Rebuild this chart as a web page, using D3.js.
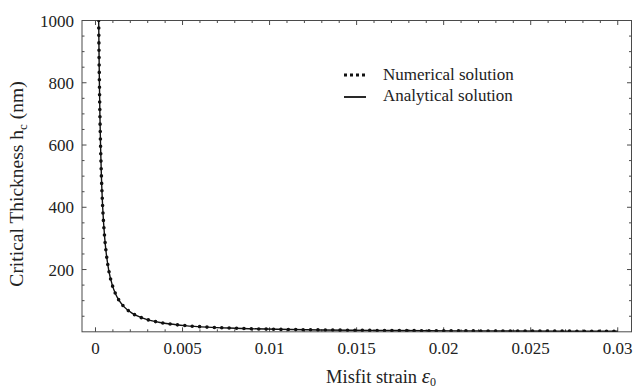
<!DOCTYPE html>
<html>
<head>
<meta charset="utf-8">
<script src="https://cdn.jsdelivr.net/npm/d3@7"></script>
<style>
  body { margin: 0; background: #fff; }
  text { font-family: "Liberation Serif", "DejaVu Serif", serif; fill: #222; }
</style>
</head>
<body>
<svg id="chart" width="634" height="389"></svg>
<script>
// misfit strain values (x) and critical thickness (nm)
const strain = [0.000184, 0.000202, 0.000225, 0.000253, 0.000290, 0.000340, 0.000413,
  0.000531, 0.000622, 0.000754, 0.000965, 0.001168, 0.001363, 0.001645, 0.002094,
  0.002436, 0.002929, 0.003705, 0.004293, 0.005133, 0.00644, 0.00767, 0.00882,
  0.01044, 0.01292, 0.01474, 0.01726, 0.0210, 0.0237, 0.0273, 0.0291, 0.0300];
const analytical = [1000, 900, 800, 700, 600, 500, 400, 300, 250, 200, 150, 120, 100,
  80, 60, 50, 40, 30, 25, 20, 15, 12, 10, 8, 6, 5, 4, 3, 2.5, 2, 1.8, 1.75];
const numerical = [1000, 900, 800, 700, 600, 500, 400, 300, 250, 200, 150, 120, 100,
  80, 60, 50, 40, 30, 25, 20, 15, 12, 10, 8, 6, 5, 4, 3, 2.5, 2, 1.8, 1.75];

const xTicks = [0, 0.005, 0.01, 0.015, 0.02, 0.025, 0.03];
const xTickLabels = ["0", "0.005", "0.01", "0.015", "0.02", "0.025", "0.03"];
const yTicks = [200, 400, 600, 800, 1000];
const legendNames = ["Numerical solution", "Analytical solution"];

const svg = d3.select("#chart");
const plotL = 82, plotR = 631.5, plotT = 20.5, plotB = 331.8;

const x = d3.scaleLinear().domain([-0.000775, 0.03079]).range([plotL, plotR]);
const y = d3.scaleLinear().domain([0, 1000]).range([plotB, plotT]);

svg.append("defs").append("clipPath").attr("id", "clip")
  .append("rect").attr("x", plotL).attr("y", plotT)
  .attr("width", plotR - plotL).attr("height", plotB - plotT);

const frameColor = "#4a4a4a";

// minor / major ticks on all four sides
const xMinor = d3.range(0, 0.0305, 0.001).filter(v => !xTicks.some(t => Math.abs(t - v) < 1e-9));
const yMinor = d3.range(50, 1000, 50).filter(v => !yTicks.includes(v));

const axes = svg.append("g").attr("stroke", frameColor).attr("stroke-width", 1);

function xTickMarks(vals, len) {
  axes.selectAll(null).data(vals).enter().append("line")
    .attr("x1", d => x(d)).attr("x2", d => x(d))
    .attr("y1", plotB).attr("y2", plotB - len);
  axes.selectAll(null).data(vals).enter().append("line")
    .attr("x1", d => x(d)).attr("x2", d => x(d))
    .attr("y1", plotT).attr("y2", plotT + len);
}
function yTickMarks(vals, len) {
  axes.selectAll(null).data(vals).enter().append("line")
    .attr("y1", d => y(d)).attr("y2", d => y(d))
    .attr("x1", plotL).attr("x2", plotL + len);
  axes.selectAll(null).data(vals).enter().append("line")
    .attr("y1", d => y(d)).attr("y2", d => y(d))
    .attr("x1", plotR).attr("x2", plotR - len);
}
xTickMarks(xTicks, 4.5);
xTickMarks(xMinor, 2.5);
yTickMarks(yTicks, 4.5);
yTickMarks(yMinor, 2.5);

axes.append("rect")
  .attr("x", plotL).attr("y", plotT)
  .attr("width", plotR - plotL).attr("height", plotB - plotT)
  .attr("fill", "none");

// tick labels
svg.append("g").selectAll("text").data(xTicks).enter().append("text")
  .attr("x", d => x(d)).attr("y", plotB + 22)
  .attr("text-anchor", "middle").attr("font-size", 17)
  .text((d, i) => xTickLabels[i]);

svg.append("g").selectAll("text").data(yTicks).enter().append("text")
  .attr("x", plotL - 8).attr("y", d => y(d) + 6)
  .attr("text-anchor", "end").attr("font-size", 17)
  .text(d => d);

// axis titles
const xt = svg.append("text").attr("x", 381).attr("y", 383)
  .attr("text-anchor", "middle").attr("font-size", 18.5);
xt.append("tspan").text("Misfit strain ");
xt.append("tspan").attr("font-style", "italic").attr("font-size", 21).text("\u03b5");
xt.append("tspan").attr("font-size", 12).attr("dy", 3).text("0");

const yt = svg.append("text")
  .attr("transform", "translate(23,184) rotate(-90)")
  .attr("text-anchor", "middle").attr("font-size", 19.5);
yt.append("tspan").text("Critical Thickness h");
yt.append("tspan").attr("font-size", 13).attr("dy", 4).text("c");
yt.append("tspan").attr("dy", -4).text(" (nm)");

// curves
const plot = svg.append("g").attr("clip-path", "url(#clip)");

const lineA = d3.line().curve(d3.curveMonotoneX)
  .x((d, i) => x(strain[i])).y(d => y(d));

plot.append("path").datum(analytical)
  .attr("d", lineA).attr("fill", "none")
  .attr("stroke", "#111").attr("stroke-width", 1.4);

plot.append("path").datum(numerical)
  .attr("d", lineA).attr("fill", "none")
  .attr("stroke", "#111").attr("stroke-width", 3.6)
  .attr("stroke-linecap", "round")
  .attr("stroke-dasharray", "0,7.4");

// legend
const lg = svg.append("g");
lg.append("line").attr("x1", 344).attr("x2", 366).attr("y1", 75).attr("y2", 75)
  .attr("stroke", "#111").attr("stroke-width", 3).attr("stroke-dasharray", "3,3");
lg.append("line").attr("x1", 344).attr("x2", 366).attr("y1", 97).attr("y2", 97)
  .attr("stroke", "#111").attr("stroke-width", 1.8);
lg.selectAll("text.lbl").data(legendNames).enter().append("text")
  .attr("x", 383).attr("y", (d, i) => 80 + i * 21)
  .attr("font-size", 17).text(d => d);
</script>
</body>
</html>
